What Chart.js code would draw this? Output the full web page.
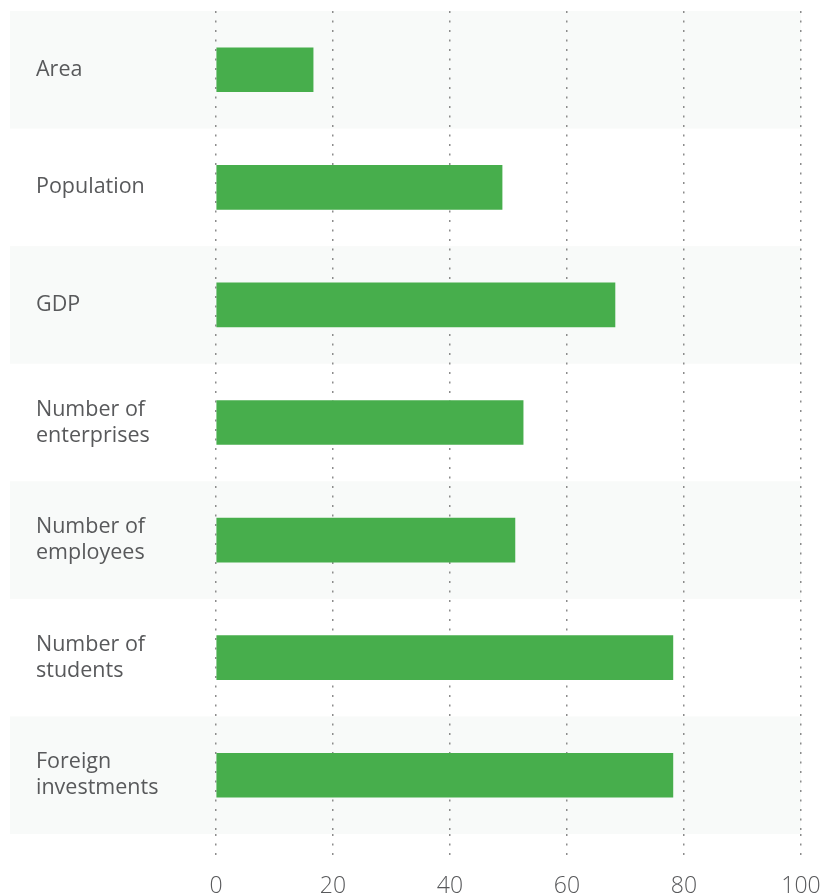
<!DOCTYPE html>
<html>
<head>
<meta charset="utf-8">
<script src="https://cdn.jsdelivr.net/npm/chart.js@4/dist/chart.umd.min.js"></script>
<style>
  html, body { margin: 0; padding: 0; background: #fff; }
  #wrap { width: 820px; height: 896px; }
</style>
</head>
<body>
<div id="wrap"><canvas id="indicators"></canvas></div>
<script>
let CATEGORIES = [
  "Area",
  "Population",
  "GDP",
  ["Number of", "enterprises"],
  ["Number of", "employees"],
  ["Number of", "students"],
  ["Foreign", "investments"]
];
let VALUES = [16.6, 48.9, 68.2, 52.5, 51.1, 78.1, 78.1];
let X_TICKS = [0, 20, 40, 60, 80, 100];

var GREEN = "#47ae4c";
var BAND = "#f8faf9";
var TEXT = "#58595b";

// light stripes behind every other row
var bands = {
  id: 'bands',
  beforeDraw(chart) {
    var ctx = chart.ctx;
    var y = chart.scales.y;
    var area = chart.chartArea;
    var step = (y.bottom - y.top) / CATEGORIES.length;
    ctx.save();
    ctx.fillStyle = BAND;
    for (var i = 0; i < CATEGORIES.length; i += 2) {
      var c = y.getPixelForValue(i);
      ctx.fillRect(10, c - step / 2, area.right - 10, step);
    }
    ctx.restore();
  }
};

var ctx = document.getElementById("indicators").getContext('2d');
var chart = new Chart(ctx, {
  type: 'bar',
  data: {
    labels: CATEGORIES,
    datasets: [{
      data: VALUES,
      backgroundColor: GREEN,
      barThickness: 44,
      borderWidth: 0
    }]
  },
  options: {
    indexAxis: 'y',
    responsive: true,
    maintainAspectRatio: false,
    animation: false,
    layout: { padding: { left: 36, right: 19, top: 11, bottom: 0 } },
    plugins: { legend: { display: false }, tooltip: { enabled: false } },
    scales: {
      x: {
        min: 0,
        max: 100,
        afterBuildTicks(scale) {
          scale.ticks = X_TICKS.map(v => ({ value: v }));
        },
        afterFit(scale) {
          scale.height = 62;
          scale.paddingLeft = 0;
          scale.paddingRight = 0;
        },
        grid: {
          color: "#8c8c8c",
          lineWidth: 1.5,
          tickLength: 28,
          tickColor: "#8c8c8c",
          tickWidth: 1.5,
          tickBorderDash: [2, 7.5]
        },
        border: { display: false, dash: [2, 7.5] },
        ticks: {
          color: TEXT,
          padding: 11,
          font: { family: "'Open Sans', sans-serif", size: 23, weight: 300 }
        }
      },
      y: {
        afterFit(scale) {
          scale.width = 180;
          scale.paddingTop = 0;
          scale.paddingBottom = 0;
        },
        border: { display: false },
        grid: { display: false },
        ticks: {
          crossAlign: 'far',
          color: TEXT,
          font: { family: "'Open Sans', sans-serif", size: 21.5, lineHeight: 1.22 }
        }
      }
    }
  },
  plugins: [bands]
});
</script>
</body>
</html>
